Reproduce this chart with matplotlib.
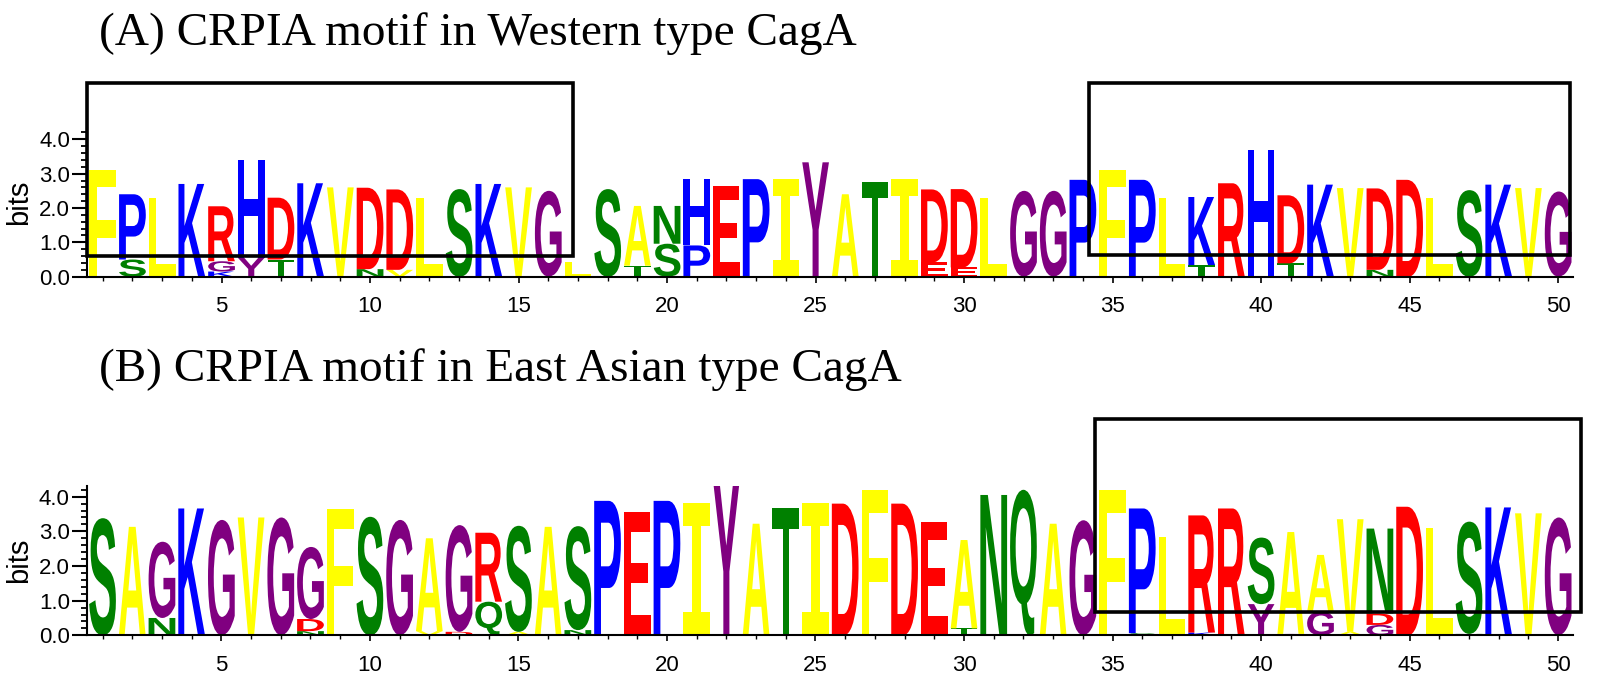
import matplotlib
matplotlib.use("Agg")
import matplotlib.pyplot as plt
from matplotlib.textpath import TextPath
from matplotlib.patches import PathPatch, Rectangle
from matplotlib.font_manager import FontProperties
from matplotlib.transforms import Affine2D
from matplotlib.ticker import MultipleLocator, FormatStrFormatter

# letter stacks per position, listed bottom -> top, heights in bits
western = [
    [("F", 3.1)],
    [("S", 0.5), ("P", 1.9)],
    [("L", 2.3)],
    [("K", 2.7)],
    [("K", 0.15), ("G", 0.3), ("R", 1.6)],
    [("Y", 0.55), ("H", 2.85)],
    [("T", 0.5), ("D", 1.8)],
    [("K", 2.72)],
    [("V", 2.6)],
    [("N", 0.22), ("D", 2.37)],
    [("V", 0.2), ("D", 2.34)],
    [("L", 2.3)],
    [("S", 2.55)],
    [("K", 2.7)],
    [("V", 2.6)],
    [("G", 2.5)],
    [("L", 0.42)],
    [("S", 2.55)],
    [("T", 0.32), ("A", 1.74)],
    [("S", 0.96), ("N", 1.1)],
    [("P", 0.91), ("H", 1.93)],
    [("E", 2.65)],
    [("P", 2.84)],
    [("I", 2.84)],
    [("Y", 3.33)],
    [("A", 2.4)],
    [("T", 2.75)],
    [("I", 2.84)],
    [("E", 0.42), ("D", 2.12)],
    [("E", 0.27), ("D", 2.28)],
    [("L", 2.3)],
    [("G", 2.5)],
    [("G", 2.5)],
    [("P", 2.82)],
    [("F", 3.1)],
    [("P", 2.82)],
    [("L", 2.28)],
    [("T", 0.34), ("K", 1.98)],
    [("R", 2.72)],
    [("H", 3.68)],
    [("T", 0.39), ("D", 1.98)],
    [("K", 2.68)],
    [("V", 2.58)],
    [("N", 0.2), ("D", 2.37)],
    [("D", 2.82)],
    [("L", 2.28)],
    [("S", 2.52)],
    [("K", 2.68)],
    [("V", 2.58)],
    [("G", 2.48)],
]

east_asian = [
    [("S", 3.38)],
    [("A", 3.13)],
    [("N", 0.5), ("G", 2.2)],
    [("K", 3.66)],
    [("G", 3.33)],
    [("V", 3.4)],
    [("G", 3.4)],
    [("N", 0.12), ("D", 0.35), ("G", 2.08)],
    [("S", 0.03), ("L", 0.1), ("F", 3.52)],
    [("S", 3.42)],
    [("G", 3.33)],
    [("V", 0.12), ("A", 2.68)],
    [("D", 0.1), ("G", 3.08)],
    [("Q", 0.97), ("R", 1.99)],
    [("A", 0.1), ("S", 3.06)],
    [("A", 3.13)],
    [("N", 0.15), ("S", 3.0)],
    [("P", 3.88)],
    [("E", 3.57)],
    [("P", 3.88)],
    [("I", 3.82)],
    [("Y", 4.48)],
    [("A", 3.22)],
    [("T", 3.66)],
    [("I", 3.82)],
    [("D", 3.8)],
    [("F", 4.2)],
    [("D", 3.8)],
    [("G", 0.04), ("E", 3.23)],
    [("T", 0.2), ("A", 2.55)],
    [("N", 4.05)],
    [("Q", 4.2)],
    [("A", 3.22)],
    [("G", 3.32)],
    [("F", 4.2)],
    [("S", 0.06), ("P", 3.6)],
    [("S", 0.03), ("L", 2.8)],
    [("K", 0.08), ("R", 3.38)],
    [("R", 3.66)],
    [("Y", 0.9), ("S", 1.92)],
    [("G", 0.04), ("A", 2.94)],
    [("G", 0.68), ("A", 1.64)],
    [("A", 0.1), ("V", 3.25)],
    [("G", 0.3), ("D", 0.33), ("N", 2.45)],
    [("D", 3.71)],
    [("L", 3.1)],
    [("N", 0.04), ("S", 3.24)],
    [("K", 3.69)],
    [("V", 3.52)],
    [("G", 3.4)],
]

titles = ["(A) CRPIA motif in Western type CagA",
          "(B) CRPIA motif in East Asian type CagA"]

COLORS = {}
for c in "FLVIAMW":
    COLORS[c] = "#FFFF00"
for c in "GY":
    COLORS[c] = "#800080"
for c in "STNQC":
    COLORS[c] = "#008000"
for c in "KHP":
    COLORS[c] = "#0000FF"
for c in "DER":
    COLORS[c] = "#FF0000"

LETTER_FONT = FontProperties(family="Liberation Sans", weight="bold")
# serifed I, like the logo generator uses
I_FONT = FontProperties(family="DejaVu Sans Mono", weight="bold")
TICK_FONT = "Liberation Sans"


def draw_letter(ax, ch, x, y0, h, width=0.9):
    prop = I_FONT if ch == "I" else LETTER_FONT
    path = TextPath((0, 0), ch, size=1, prop=prop)
    bb = path.get_extents()
    t = (Affine2D().translate(-bb.x0, -bb.y0)
         .scale(width / bb.width, h / bb.height)
         .translate(x - width / 2, y0))
    ax.add_patch(PathPatch(t.transform_path(path), fc=COLORS[ch], ec="none", lw=0))


def draw_logo(ax, stacks, ytop):
    for i, stack in enumerate(stacks):
        y = 0.0
        for ch, h in stack:
            draw_letter(ax, ch, i + 1, y, h)
            y += h
    ax.set_xlim(0.46, 50.5)
    ax.set_ylim(0, ytop)
    for s in ["top", "right"]:
        ax.spines[s].set_visible(False)
    for s in ["left", "bottom"]:
        ax.spines[s].set_linewidth(1.5)
    ax.xaxis.set_major_locator(MultipleLocator(5))
    ax.xaxis.set_minor_locator(MultipleLocator(1))
    ax.yaxis.set_major_locator(MultipleLocator(1))
    ax.yaxis.set_minor_locator(MultipleLocator(0.2))
    ax.yaxis.set_major_formatter(FormatStrFormatter("%.1f"))
    ax.tick_params(axis="y", which="major", length=11, width=1.5, pad=1, labelsize=16)
    ax.tick_params(axis="y", which="minor", length=4.5, width=1.3)
    ax.tick_params(axis="x", which="major", length=4, width=1.2, pad=10, labelsize=16)
    ax.tick_params(axis="x", which="minor", length=3, width=1.0)
    for lab in ax.get_xticklabels() + ax.get_yticklabels():
        lab.set_family(TICK_FONT)
    ax.set_ylabel("bits", fontsize=21, family=TICK_FONT)
    ax.yaxis.set_label_coords(-0.036, 0.5)


W, H = 1598, 674
fig = plt.figure(figsize=(W / 100, H / 100), dpi=100)

axA = fig.add_axes([86.7 / W, 1 - 276.7 / H, (1573 - 86.7) / W, 4.33 * 34.35 / H])
draw_logo(axA, western, 4.33)
axB = fig.add_axes([86.5 / W, 1 - 635.3 / H, (1573 - 86.5) / W, 4.3 * 34.65 / H])
draw_logo(axB, east_asian, 4.3)

# highlight boxes (x0, x1, y0, y1 in position / bits units)
for ax, boxes in [(axA, [(0.46, 16.83, 0.6, 5.63), (34.2, 50.4, 0.62, 5.63)]),
                  (axB, [(34.4, 50.77, 0.67, 6.23)])]:
    for x0, x1, y0, y1 in boxes:
        ax.add_patch(Rectangle((x0, y0), x1 - x0, y1 - y0, fill=False,
                               ec="black", lw=2.6, clip_on=False, zorder=5))

fig.text(99 / W, 1 - 45 / H, titles[0], fontsize=34, family="Liberation Serif",
         va="baseline", ha="left")
fig.text(99 / W, 1 - 381 / H, titles[1], fontsize=34, family="Liberation Serif",
         va="baseline", ha="left")

fig.savefig("out.png", dpi=100)
